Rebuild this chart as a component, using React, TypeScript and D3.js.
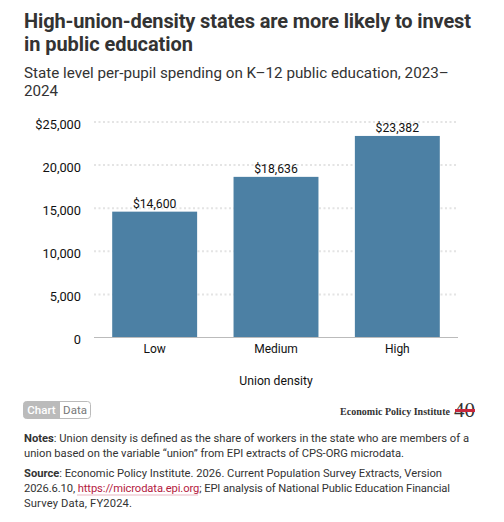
import * as d3 from "d3";

const categories = ["Low", "Medium", "High"];
const spending = [14600, 18636, 23382];
const yTicks = [0, 5000, 10000, 15000, 20000, 25000];

const titleLines = ["High-union-density states are more likely to invest", "in public education"];
const titleWidths = [447, 169];
const subtitleLines = ["State level per-pupil spending on K–12 public education, 2023–", "2024"];

const FONT = "Roboto, Lato, sans-serif";
const INK = "#333";

export default function App() {
  const x = d3.scaleBand<string>().domain(categories).range([94, 458]).paddingInner(0.3).paddingOuter(0.15);
  const y = d3.scaleLinear().domain([0, 25000]).range([337.5, 122]);
  const fmt = d3.format(",");

  return (
    <svg
      width={504}
      height={522}
      viewBox="0 0 504 522"
      style={{ position: "absolute", left: 0, top: 0, fontFamily: FONT }}
    >
      <rect width={504} height={522} fill="#fff" />

      {titleLines.map((t, i) => (
        <text key={t} x={24} y={27.5 + i * 23.5} fontSize={20} fontWeight={700} fill={INK} textLength={titleWidths[i]}>
          {t}
        </text>
      ))}
      {subtitleLines.map((t, i) => (
        <text key={t} x={24} y={77.5 + i * 18} fontSize={15.2} fill={INK}>
          {t}
        </text>
      ))}

      {yTicks.slice(1).map((t) => (
        <line
          key={t}
          x1={94}
          x2={458}
          y1={y(t)}
          y2={y(t)}
          stroke="#e4e4e4"
          strokeWidth={2}
          strokeDasharray="2 2.5"
        />
      ))}

      {yTicks.map((t) => (
        <text key={t} x={81} y={y(t) + 6.5} textAnchor="end" fontSize={12.8} fill="#111">
          {t === 25000 ? "$" + fmt(t) : fmt(t)}
        </text>
      ))}

      {categories.map((c, i) => (
        <g key={c}>
          <rect
            x={x(c)}
            y={y(spending[i])}
            width={x.bandwidth()}
            height={y(0) - y(spending[i])}
            fill="#4c80a4"
          />
          <text
            x={x(c)! + x.bandwidth() / 2}
            y={y(spending[i]) - 4}
            textAnchor="middle"
            fontSize={12.2}
            fill="#111"
          >
            {"$" + fmt(spending[i])}
          </text>
          <text x={x(c)! + x.bandwidth() / 2} y={353} textAnchor="middle" fontSize={12} fill="#111">
            {c}
          </text>
        </g>
      ))}
      <line x1={94} x2={458} y1={337.5} y2={337.5} stroke="#bbb" strokeWidth={1} />

      <text x={276} y={385} textAnchor="middle" fontSize={12.2} fill="#111">
        Union density
      </text>

      {/* chart / data toggle */}
      <rect x={23.5} y={401.5} width={67} height={17} rx={3} fill="#fff" stroke="#bbb" />
      <path d="M26.5 401.5 H60 V418.5 H26.5 a3 3 0 0 1 -3 -3 V404.5 a3 3 0 0 1 3 -3 Z" fill="#bbb" />
      <text x={41.5} y={414} textAnchor="middle" fontSize={11.5} fontWeight={500} fill="#fff">
        Chart
      </text>
      <text x={75} y={414} textAnchor="middle" fontSize={11.5} fill="#777">
        Data
      </text>

      {/* logo */}
      <text x={340} y={415} fontFamily="'Liberation Serif', serif" fontWeight={700} fontSize={10} fill="#333" textLength={110}>
        Economic Policy Institute
      </text>
      <text x={464.5} y={417} textAnchor="middle" fontFamily="'Liberation Serif', serif" fontSize={21} fill="#333">
        40
      </text>
      <rect x={455} y={409} width={20} height={3} fill="#c8283e" />

      <text x={24} y={442} fontSize={11.2} fill={INK} textLength={445}>
        <tspan fontWeight={700}>Notes</tspan>: Union density is defined as the share of workers in the state who are members of a
      </text>
      <text x={24} y={457} fontSize={11.2} fill={INK} textLength={380}>
        union based on the variable “union” from EPI extracts of CPS-ORG microdata.
      </text>
      <text x={24} y={477} fontSize={11.2} fill={INK} textLength={418}>
        <tspan fontWeight={700}>Source</tspan>:  Economic Policy Institute. 2026. Current Population Survey Extracts, Version
      </text>
      <text x={24} y={492} fontSize={11.2} fill={INK} textLength={426}>
        2026.6.10, <tspan fill="#b5213f">https://microdata.epi.org</tspan>; EPI analysis of National Public Education Financial
      </text>
      <text x={24} y={507} fontSize={11.2} fill={INK} textLength={108}>
        Survey Data, FY2024.
      </text>
      <line x1={77} x2={198} y1={495} y2={495} stroke="#e8b9c3" strokeWidth={1} />
    </svg>
  );
}
